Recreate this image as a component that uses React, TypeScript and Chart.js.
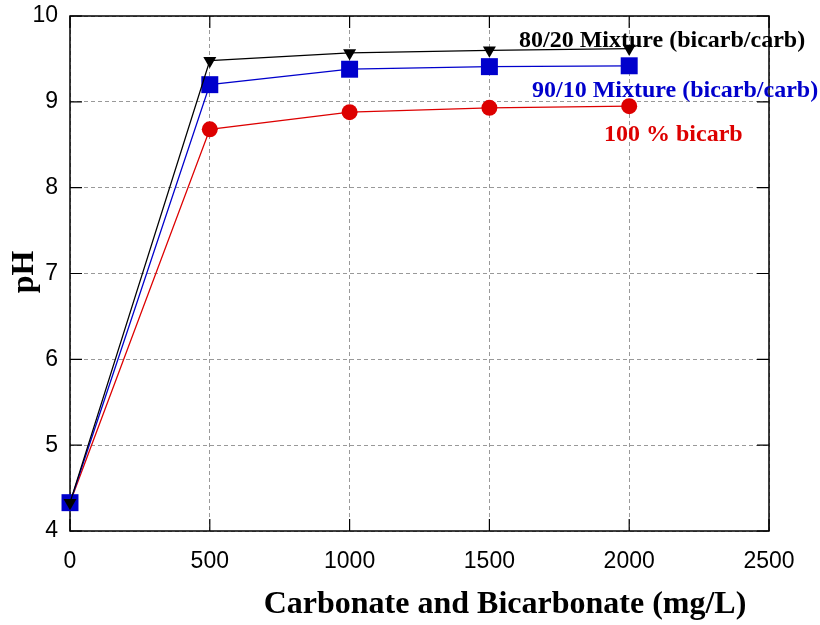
import React, { useEffect, useRef } from 'react';
import { Chart, registerables } from 'chart.js';

Chart.register(...registerables);

const xValues = [0, 500, 1000, 1500, 2000];
const mix8020 = [4.33, 9.48, 9.57, 9.6, 9.62];
const mix9010 = [4.33, 9.2, 9.38, 9.41, 9.42];
const bicarb100 = [4.33, 8.68, 8.88, 8.93, 8.95];
const seriesLabels = ['80/20 Mixture (bicarb/carb)', '90/10 Mixture (bicarb/carb)', '100 % bicarb'];
const xTitle = 'Carbonate and Bicarbonate (mg/L)';
const yTitle = 'pH';

const toPts = (ys: number[]) => ys.map((y, i) => ({ x: xValues[i], y }));

const framePlugin = {
  id: 'frame',
  beforeDatasetsDraw(chart: any) {
    const { ctx, chartArea: a, scales } = chart;
    ctx.save();
    ctx.strokeStyle = '#000';
    ctx.lineWidth = 1.5;
    ctx.strokeRect(a.left, a.top, a.right - a.left, a.bottom - a.top);
    ctx.lineWidth = 1.2;
    const L = 12;
    ctx.beginPath();
    scales.x.ticks.forEach((t: any) => {
      const px = scales.x.getPixelForValue(t.value);
      ctx.moveTo(px, a.bottom);
      ctx.lineTo(px, a.bottom - L);
      ctx.moveTo(px, a.top);
      ctx.lineTo(px, a.top + L);
    });
    scales.y.ticks.forEach((t: any) => {
      const py = scales.y.getPixelForValue(t.value);
      ctx.moveTo(a.left, py);
      ctx.lineTo(a.left + L, py);
      ctx.moveTo(a.right, py);
      ctx.lineTo(a.right - L, py);
    });
    ctx.stroke();
    ctx.restore();
  },
  afterDraw(chart: any) {
    const { ctx } = chart;
    ctx.save();
    ctx.textAlign = 'left';
    ctx.textBaseline = 'alphabetic';
    ctx.font = 'bold 24px "Liberation Serif"';
    ctx.fillStyle = '#000000';
    ctx.fillText(seriesLabels[0], 519, 47);
    ctx.fillStyle = '#0000cc';
    ctx.fillText(seriesLabels[1], 532, 97);
    ctx.fillStyle = '#dd0000';
    ctx.fillText(seriesLabels[2], 604, 141);

    ctx.fillStyle = '#000';
    ctx.font = 'bold 32px "Liberation Serif"';
    ctx.textAlign = 'center';
    ctx.fillText(xTitle, 505, 613);

    ctx.font = 'bold 32px "Liberation Serif"';
    ctx.translate(33, 272);
    ctx.rotate(-Math.PI / 2);
    ctx.fillText(yTitle, 0, 0);
    ctx.restore();
  },
};

export default function App() {
  const ref = useRef<HTMLCanvasElement>(null);
  useEffect(() => {
    document.body.style.margin = '0';
    const tickFont = { family: '"Liberation Sans", Arial, sans-serif', size: 23 };
    const chart = new Chart(ref.current!, {
      type: 'line',
      data: {
        datasets: [
          {
            label: seriesLabels[0],
            data: toPts(mix8020),
            borderColor: '#000000',
            backgroundColor: '#000000',
            borderWidth: 1.3,
            pointStyle: 'triangle',
            rotation: 180,
            pointRadius: 7.5,
            pointBorderWidth: 0,
            clip: false,
          },
          {
            label: seriesLabels[1],
            data: toPts(mix9010),
            borderColor: '#0000cc',
            backgroundColor: '#0000cc',
            borderWidth: 1.3,
            pointStyle: 'rect',
            pointRadius: 12,
            pointBorderWidth: 0,
            clip: false,
          },
          {
            label: seriesLabels[2],
            data: toPts(bicarb100),
            borderColor: '#dd0000',
            backgroundColor: '#dd0000',
            borderWidth: 1.3,
            pointStyle: 'circle',
            pointRadius: 8,
            pointBorderWidth: 0,
            clip: false,
          },
        ],
      },
      options: {
        responsive: false,
        animation: false,
        layout: { padding: { top: 16, right: 51, left: 0, bottom: 0 } },
        plugins: { legend: { display: false }, tooltip: { enabled: false } },
        scales: {
          x: {
            type: 'linear',
            min: 0,
            max: 2500,
            ticks: {
              stepSize: 500,
              color: '#000',
              font: tickFont,
              padding: 17,
              maxRotation: 0,
              callback: (v: any) => String(v),
            },
            grid: { color: '#999999', lineWidth: 1, drawTicks: false },
            border: { display: false, dash: [4, 3] },
            afterFit: (s: any) => {
              s.height = 94;
              s.paddingLeft = 0;
              s.paddingRight = 0;
            },
          },
          y: {
            type: 'linear',
            min: 4,
            max: 10,
            ticks: { stepSize: 1, color: '#000', font: tickFont, padding: 12, callback: (v: any) => String(v) },
            grid: { color: '#999999', lineWidth: 1, drawTicks: false },
            border: { display: false, dash: [4, 3] },
            afterFit: (s: any) => {
              s.width = 70;
              s.paddingTop = 0;
              s.paddingBottom = 0;
            },
          },
        },
      },
      plugins: [framePlugin],
    } as any);
    return () => chart.destroy();
  }, []);
  return (
    <div style={{ width: 820, height: 625, background: '#fff' }}>
      <canvas ref={ref} width={820} height={625} />
    </div>
  );
}
